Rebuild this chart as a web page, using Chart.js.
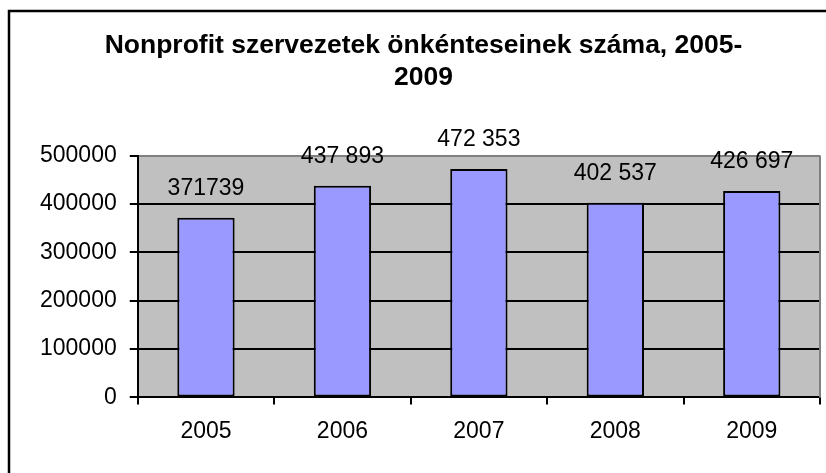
<!DOCTYPE html>
<html>
<head>
<meta charset="utf-8">
<script src="https://cdn.jsdelivr.net/npm/chart.js@4"></script>
<style>
  html, body { margin: 0; padding: 0; background: #fff; overflow: hidden; }
  #wrap { width: 826px; height: 473px; position: relative; }
</style>
</head>
<body>
<div id="wrap"><canvas id="barChart"></canvas></div>
<script>
// data
const years = ['2005', '2006', '2007', '2008', '2009'];
const volunteers = [371739, 437893, 472353, 402537, 426697];
const valueLabels = ['371739', '437 893', '472 353', '402 537', '426 697'];
const titleLines = ['Nonprofit szervezetek önkénteseinek száma, 2005-', '2009'];

Chart.defaults.font.family = "'Liberation Sans', Arial, sans-serif";
Chart.defaults.color = '#000';

// gray plot area + outer frame, like the old Excel look
const frame = {
    id: 'frame',
    beforeDraw(chart) {
        const { ctx, chartArea: a } = chart;
        ctx.save();
        ctx.fillStyle = '#c0c0c0';
        ctx.fillRect(a.left, a.top, a.right - a.left, a.bottom - a.top);
        ctx.strokeStyle = '#000';
        ctx.lineWidth = 2.5;
        ctx.strokeRect(9, 11, 900, 600);
        ctx.restore();
    },
    afterDraw(chart) {
        const { ctx, chartArea: a } = chart;
        ctx.save();
        ctx.strokeStyle = '#808080';
        ctx.lineWidth = 2;
        ctx.beginPath();
        ctx.moveTo(a.right, a.top);
        ctx.lineTo(a.right, a.bottom);
        ctx.stroke();
        ctx.restore();
    }
};

// value labels above the bars
const barLabels = {
    id: 'barLabels',
    afterDatasetsDraw(chart) {
        const ctx = chart.ctx;
        const meta = chart.getDatasetMeta(0);
        ctx.save();
        ctx.font = "23px 'Liberation Sans', Arial, sans-serif";
        ctx.fillStyle = '#000';
        ctx.textAlign = 'center';
        ctx.textBaseline = 'middle';
        meta.data.forEach((bar, i) => {
            ctx.fillText(valueLabels[i], bar.x, bar.y - 29);
        });
        ctx.restore();
    }
};

new Chart(document.getElementById('barChart'), {
    type: 'bar',
    data: {
        labels: years,
        datasets: [{
            data: volunteers,
            backgroundColor: '#9999ff',
            borderColor: '#000',
            borderWidth: 2,
            borderSkipped: false,
            barPercentage: 0.42,
            categoryPercentage: 1
        }]
    },
    options: {
        responsive: true,
        maintainAspectRatio: false,
        animation: false,
        layout: { padding: { left: 27, right: 6, top: 0, bottom: 15 } },
        plugins: {
            legend: { display: false },
            tooltip: { enabled: false },
            title: {
                display: true,
                text: titleLines,
                font: { size: 26.5, weight: 'bold' },
                color: '#000',
                padding: { top: 30, bottom: 62 },
                lineHeight: 1.52
            }
        },
        scales: {
            x: {
                grid: {
                    drawOnChartArea: false,
                    color: '#000',
                    lineWidth: 2,
                    tickLength: 7
                },
                border: { color: '#000', width: 2 },
                ticks: { font: { size: 23 }, padding: 13 }
            },
            y: {
                min: 0,
                max: 500000,
                grid: {
                    color: (c) => c.tick && c.tick.value === 500000 ? '#808080' : '#000',
                    lineWidth: 2,
                    tickLength: 8,
                    tickColor: '#000'
                },
                border: { color: '#000', width: 2 },
                ticks: {
                    stepSize: 100000,
                    font: { size: 23 },
                    padding: 13,
                    callback: (v) => String(v)
                }
            }
        }
    },
    plugins: [frame, barLabels]
});
</script>
</body>
</html>
